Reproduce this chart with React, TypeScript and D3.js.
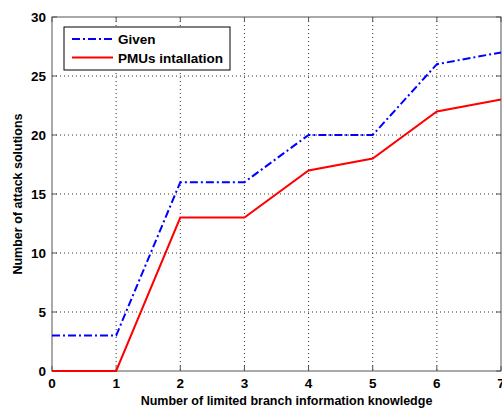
import { useEffect, useRef } from "react";
import * as d3 from "d3";

const xValues = [0, 1, 2, 3, 4, 5, 6, 7];
const givenValues = [3, 3, 16, 16, 20, 20, 26, 27];
const pmuValues = [0, 0, 13, 13, 17, 18, 22, 23];
const xTicks = [0, 1, 2, 3, 4, 5, 6, 7];
const yTicks = [0, 5, 10, 15, 20, 25, 30];

const App = () => {
  const ref = useRef<SVGSVGElement | null>(null);
  const width = 502;
  const height = 410;
  const margin = { top: 17, right: 1, bottom: 39, left: 52 };

  useEffect(() => {
    if (!ref.current) return;
    const svg = d3.select(ref.current);
    svg.selectAll("*").remove();

    const w = width - margin.left - margin.right;
    const h = height - margin.top - margin.bottom;
    const font = "Liberation Sans, Arial, sans-serif";

    const x = d3.scaleLinear().domain([0, 7]).range([0, w]);
    const y = d3.scaleLinear().domain([0, 30]).range([h, 0]);

    svg.append("rect").attr("width", width).attr("height", height).attr("fill", "#fff");

    const g = svg.append("g").attr("transform", `translate(${margin.left},${margin.top})`);

    // grid
    g.selectAll(".vgrid")
      .data(xTicks.slice(1, -1))
      .enter()
      .append("line")
      .attr("x1", d => x(d))
      .attr("x2", d => x(d))
      .attr("y1", 0)
      .attr("y2", h)
      .attr("stroke", "#333")
      .attr("stroke-width", 1)
      .attr("stroke-dasharray", "1,3");
    g.selectAll(".hgrid")
      .data(yTicks.slice(1, -1))
      .enter()
      .append("line")
      .attr("x1", 0)
      .attr("x2", w)
      .attr("y1", d => y(d))
      .attr("y2", d => y(d))
      .attr("stroke", "#333")
      .attr("stroke-width", 1)
      .attr("stroke-dasharray", "1,3");

    // box
    g.append("rect")
      .attr("width", w)
      .attr("height", h)
      .attr("fill", "none")
      .attr("stroke", "#555")
      .attr("stroke-width", 1);

    // ticks on all sides
    const tl = 5;
    xTicks.forEach(t => {
      g.append("line").attr("x1", x(t)).attr("x2", x(t)).attr("y1", h).attr("y2", h - tl).attr("stroke", "#555");
      g.append("line").attr("x1", x(t)).attr("x2", x(t)).attr("y1", 0).attr("y2", tl).attr("stroke", "#555");
    });
    yTicks.forEach(t => {
      g.append("line").attr("x1", 0).attr("x2", tl).attr("y1", y(t)).attr("y2", y(t)).attr("stroke", "#555");
      g.append("line").attr("x1", w).attr("x2", w - tl).attr("y1", y(t)).attr("y2", y(t)).attr("stroke", "#555");
    });

    // tick labels
    g.selectAll(".xl")
      .data(xTicks)
      .enter()
      .append("text")
      .attr("x", d => x(d))
      .attr("y", h + 17)
      .attr("text-anchor", "middle")
      .style("font-family", font)
      .style("font-size", "13.5px")
      .style("font-weight", "bold")
      .text(d => d);
    g.selectAll(".yl")
      .data(yTicks)
      .enter()
      .append("text")
      .attr("x", -6)
      .attr("y", d => y(d) + 5)
      .attr("text-anchor", "end")
      .style("font-family", font)
      .style("font-size", "13.5px")
      .style("font-weight", "bold")
      .text(d => d);

    // axis labels
    svg.append("text")
      .attr("x", margin.left + w / 2 + 10)
      .attr("y", height - 5)
      .attr("text-anchor", "middle")
      .style("font-family", font)
      .style("font-size", "12.5px")
      .style("font-weight", "bold")
      .text("Number of limited branch information knowledge");
    svg.append("text")
      .attr("transform", `translate(22,${margin.top + h / 2}) rotate(-90)`)
      .attr("text-anchor", "middle")
      .style("font-family", font)
      .style("font-size", "12.5px")
      .style("font-weight", "bold")
      .text("Number of attack solutions");

    // lines
    const line = d3.line<number>()
      .x((_, i) => x(xValues[i]))
      .y(d => y(d));

    g.append("path")
      .datum(pmuValues)
      .attr("d", line)
      .attr("fill", "none")
      .attr("stroke", "#ff0000")
      .attr("stroke-width", 2);
    g.append("path")
      .datum(givenValues)
      .attr("d", line)
      .attr("fill", "none")
      .attr("stroke", "#0000ff")
      .attr("stroke-width", 2)
      .attr("stroke-dasharray", "8,3,2,3");

    // legend
    const lg = svg.append("g").attr("transform", "translate(64,27)");
    lg.append("rect")
      .attr("width", 166)
      .attr("height", 43)
      .attr("fill", "#fff")
      .attr("stroke", "#000")
      .attr("stroke-width", 1);
    const items = [
      { label: "Given", color: "#0000ff", dash: "8,3,2,3" },
      { label: "PMUs intallation", color: "#ff0000", dash: null as string | null },
    ];
    items.forEach((it, i) => {
      const yy = 12 + i * 18.5;
      lg.append("line")
        .attr("x1", 8)
        .attr("x2", 49)
        .attr("y1", yy)
        .attr("y2", yy)
        .attr("stroke", it.color)
        .attr("stroke-width", 2)
        .attr("stroke-dasharray", it.dash);
      lg.append("text")
        .attr("x", 54)
        .attr("y", yy + 5)
        .style("font-family", font)
        .style("font-size", "13.5px")
        .style("font-weight", "bold")
        .text(it.label);
    });
  }, []);

  return (
    <div style={{ position: "absolute", left: 0, top: 0 }}>
      <svg ref={ref} width={width} height={height} style={{ display: "block" }} />
    </div>
  );
};

export default App;
